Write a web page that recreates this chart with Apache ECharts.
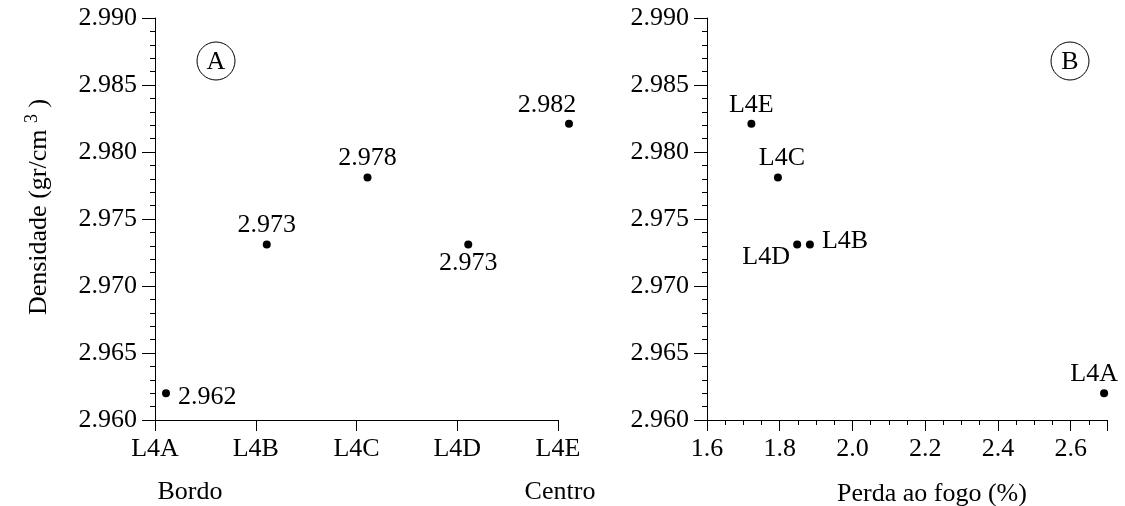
<!DOCTYPE html>
<html>
<head>
<meta charset="utf-8">
<script src="https://cdn.jsdelivr.net/npm/echarts@6/dist/echarts.min.js"></script>
<style>
  html, body { margin: 0; padding: 0; background: #fff; }
  #chart { width: 1125px; height: 506px; }
</style>
</head>
<body>
<div id="chart"></div>
<script>
// amostras (borda -> centro)
let samples = ["L4A", "L4B", "L4C", "L4D", "L4E"];
// densidade (gr/cm3)
let density = [2.962, 2.9731, 2.9781, 2.9731, 2.9821];
// perda ao fogo (%)
let lossOnFire = [2.692, 1.883, 1.795, 1.848, 1.722];

let FONT = "Liberation Serif";
let BLACK = "#000";

// where each label sits relative to its dot
let leftLabelPos = {
  L4A: { position: "right", distance: 8, offset: [0, 4] },
  L4B: { position: "top", distance: 2 },
  L4C: { position: "top", distance: 2 },
  L4D: { position: "bottom", distance: 2 },
  L4E: { position: "top", distance: 2, offset: [-22, 0] }
};
let rightLabelPos = {
  L4A: { position: "top", distance: 2, offset: [-10, 0] },
  L4B: { position: "right", distance: 8, offset: [0, -3] },
  L4C: { position: "top", distance: 2, offset: [4, 0] },
  L4D: { position: "bottom", distance: 0, offset: [-31, -4] },
  L4E: { position: "top", distance: 2 }
};

let leftData = samples.map(function (s, i) {
  return { value: [s, density[i]], label: leftLabelPos[s] };
});
let rightData = samples.map(function (s, i) {
  return { name: s, value: [lossOnFire[i], density[i]], label: rightLabelPos[s] };
});

let yAxisCommon = {
  type: "value",
  min: 2.96,
  max: 2.99,
  interval: 0.005,
  axisLine: { show: true, lineStyle: { color: BLACK, width: 1 } },
  axisTick: { show: true, inside: false, length: 13, lineStyle: { color: BLACK } },
  minorTick: { show: true, splitNumber: 5, length: 5, lineStyle: { color: BLACK } },
  splitLine: { show: false },
  axisLabel: {
    color: BLACK, fontFamily: FONT, fontSize: 26, margin: 18,
    formatter: function (v) { return v.toFixed(3); }
  }
};

let pointLabel = {
  show: true, color: BLACK, fontFamily: FONT, fontSize: 26,
  textBorderWidth: 0, opacity: 1
};

let option = {
  animation: false,
  backgroundColor: "#fff",
  textStyle: { fontFamily: FONT, color: BLACK },
  grid: [
    { left: 155, right: 567, top: 18, bottom: 86, outerBoundsMode: "none", containLabel: false },
    { left: 707, right: 18, top: 18, bottom: 86, outerBoundsMode: "none", containLabel: false }
  ],
  xAxis: [
    {
      gridIndex: 0,
      type: "category",
      data: samples,
      boundaryGap: false,
      axisLine: { lineStyle: { color: BLACK, width: 1 } },
      axisTick: { show: true, alignWithLabel: true, length: 11, lineStyle: { color: BLACK } },
      axisLabel: { color: BLACK, fontFamily: FONT, fontSize: 26, margin: 16 },
      splitLine: { show: false }
    },
    {
      gridIndex: 1,
      type: "value",
      min: 1.6,
      max: 2.7,
      interval: 0.2,
      axisLine: { onZero: false, lineStyle: { color: BLACK, width: 1 } },
      axisTick: { show: true, length: 11, lineStyle: { color: BLACK } },
      minorTick: { show: true, splitNumber: 4, length: 5, lineStyle: { color: BLACK } },
      splitLine: { show: false },
      axisLabel: {
        color: BLACK, fontFamily: FONT, fontSize: 26, margin: 16,
        showMaxLabel: false,
        formatter: function (v) { return v.toFixed(1); }
      },
      name: "Perda ao fogo (%)",
      nameLocation: "middle",
      nameGap: 61,
      nameTextStyle: { color: BLACK, fontFamily: FONT, fontSize: 26, padding: [0, 0, 0, 50] }
    }
  ],
  yAxis: [
    Object.assign({}, yAxisCommon, {
      gridIndex: 0,
      name: "{a|Densidade (gr/cm }{s|3}{a| )}",
      nameLocation: "middle",
      nameGap: 100,
      nameTextStyle: {
        padding: [0, 0, 0, 24],
        rich: {
          a: { fontFamily: FONT, fontSize: 26, color: BLACK },
          s: { fontFamily: FONT, fontSize: 18, color: BLACK, padding: [0, 0, 14, 0] }
        }
      }
    }),
    Object.assign({}, yAxisCommon, { gridIndex: 1 })
  ],
  series: [
    {
      type: "scatter",
      xAxisIndex: 0,
      yAxisIndex: 0,
      symbol: "circle",
      symbolSize: 8,
      symbolOffset: [11, 0],
      itemStyle: { color: BLACK, opacity: 1 },
      label: Object.assign({}, pointLabel, {
        formatter: function (p) { return p.value[1].toFixed(3); }
      }),
      data: leftData
    },
    {
      type: "scatter",
      xAxisIndex: 1,
      yAxisIndex: 1,
      symbol: "circle",
      symbolSize: 8,
      itemStyle: { color: BLACK, opacity: 1 },
      label: Object.assign({}, pointLabel, {
        formatter: function (p) { return p.name; }
      }),
      data: rightData
    }
  ],
  graphic: [
    { type: "circle", shape: { cx: 216, cy: 61, r: 19 }, style: { fill: "none", stroke: BLACK, lineWidth: 1 } },
    { type: "text", x: 216, y: 62, style: { text: "A", font: "26px " + FONT, fill: BLACK, align: "center", verticalAlign: "middle" } },
    { type: "circle", shape: { cx: 1070, cy: 61, r: 19 }, style: { fill: "none", stroke: BLACK, lineWidth: 1 } },
    { type: "text", x: 1070, y: 62, style: { text: "B", font: "26px " + FONT, fill: BLACK, align: "center", verticalAlign: "middle" } },
    { type: "text", x: 190, y: 492, style: { text: "Bordo", font: "26px " + FONT, fill: BLACK, align: "center", verticalAlign: "middle" } },
    { type: "text", x: 560, y: 492, style: { text: "Centro", font: "26px " + FONT, fill: BLACK, align: "center", verticalAlign: "middle" } }
  ]
};

let myChart = echarts.init(document.getElementById("chart"));
myChart.setOption(option);
</script>
</body>
</html>
